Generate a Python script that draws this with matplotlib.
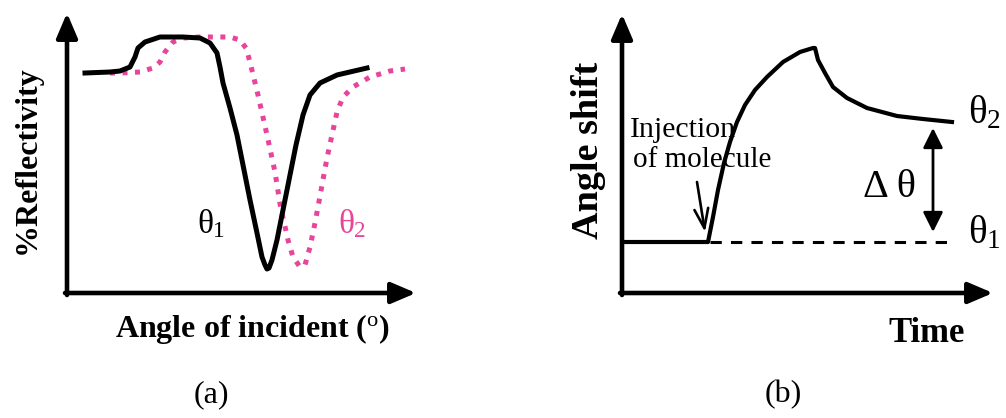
import matplotlib.pyplot as plt

plt.rcParams['font.family'] = ['Liberation Serif', 'DejaVu Serif']
plt.rcParams['mathtext.fontset'] = 'custom'
plt.rcParams['mathtext.rm'] = 'Liberation Serif'
plt.rcParams['mathtext.it'] = 'Liberation Serif'
plt.rcParams['mathtext.bf'] = 'Liberation Serif:bold'

PINK = '#e8449a'

# (a) reflectivity curves, before (theta1) and after (theta2) binding
theta1_angle = [18, 43, 53, 63, 68, 71, 78, 93, 116, 133, 143, 150, 153, 156, 163,
                170, 176, 183, 190, 195, 198, 200, 202, 205, 210, 218, 223, 229, 236,
                243, 253, 270, 300]
theta1_refl = [220, 221, 222, 226, 236, 245, 251, 256, 256, 255, 250, 240, 226, 210, 185,
               158, 128, 93, 60, 36, 28, 24, 25, 33, 53, 93, 118, 148, 178,
               198, 210, 218, 225]

theta2_angle = [43, 53, 73, 86, 93, 98, 106, 116, 133, 163, 173, 179, 183, 191, 200,
                208, 214, 217, 221, 226, 233, 238, 243, 248, 251, 260, 270, 276, 286,
                303, 323, 338]
theta2_refl = [220, 220, 221, 225, 231, 241, 251, 255, 256, 256, 253, 245, 231, 198, 158,
               121, 83, 71, 53, 36, 26, 28, 46, 70, 86, 135, 181, 196, 206,
               216, 222, 224]

# (b) sensorgram: angle shift vs time
time_pts = [0, 86, 91, 96, 102, 108, 115, 123, 133, 145, 161, 178, 191, 193,
            196, 203, 211, 225, 245, 275, 301, 330]
shift_pts = [51, 51, 76, 103, 130, 151, 171, 188, 203, 216, 231, 241, 245, 245,
             233, 220, 206, 195, 185, 177, 174, 171]
baseline_time = [88, 333]
baseline_shift = [51, 51]
delta_time = 311
theta1_level = 61
theta2_level = 165

fig = plt.figure(figsize=(10.06, 4.18), dpi=100)

ax_a = fig.add_axes([67 / 1006, 125 / 418, 350 / 1006, 282 / 418])
ax_a.set_xlim(0, 350)
ax_a.set_ylim(0, 282)
ax_a.axis('off')

ax_b = fig.add_axes([622 / 1006, 125 / 418, 372 / 1006, 282 / 418])
ax_b.set_xlim(0, 372)
ax_b.set_ylim(0, 282)
ax_b.axis('off')


def draw_axes(ax, xend, yend):
    style = '-|>,head_length=0.75,head_width=0.32'
    ax.annotate('', xy=(xend, 0), xytext=(-2, 0),
                arrowprops=dict(arrowstyle=style, lw=3.3, color='black',
                                mutation_scale=20, shrinkA=0, shrinkB=0))
    ax.annotate('', xy=(0, yend), xytext=(0, -2),
                arrowprops=dict(arrowstyle=style, lw=3.3, color='black',
                                mutation_scale=20, shrinkA=0, shrinkB=0))


# panel (a)
draw_axes(ax_a, 349, 280)
ax_a.plot(theta2_angle, theta2_refl, color=PINK, lw=3.6, linestyle=(0, (1, 1.5)),
          dash_capstyle='butt', clip_on=False)
ax_a.plot(theta1_angle, theta1_refl, color='black', lw=3.6, clip_on=False,
          solid_joinstyle='round')

ax_a.text(130, 60, r'$\theta_1$', fontsize=24, color='black', va='baseline')
ax_a.text(271, 60, r'$\theta_2$', fontsize=24, color=PINK, va='baseline')

ax_a.text(-40, 133, '%Reflectivity', fontsize=23, fontweight='bold',
          rotation=90, ha='center', va='center')
ax_a.text(186, -44, r'Angle of incident ($^{\mathrm{o}}$)', fontsize=23,
          fontweight='bold', ha='center', va='baseline')
ax_a.text(144, -102, '(a)', fontsize=23, ha='center', va='center')

# panel (b)
draw_axes(ax_b, 371, 279)
ax_b.plot(baseline_time, baseline_shift, color='black', lw=2.2,
          linestyle=(0, (3.7, 3.0)))
ax_b.plot(time_pts, shift_pts, color='black', lw=3.0, solid_joinstyle='round')

ax_b.annotate('', xy=(delta_time, theta1_level), xytext=(delta_time, theta2_level),
              arrowprops=dict(arrowstyle='<|-|>,head_length=0.6,head_width=0.3',
                              lw=2.0, color='black', mutation_scale=20,
                              shrinkA=0, shrinkB=0))
ax_b.annotate('', xy=(83, 61), xytext=(75, 111),
              arrowprops=dict(arrowstyle='->,head_length=0.7,head_width=0.25',
                              lw=1.9, color='black', mutation_scale=20,
                              shrinkA=0, shrinkB=0))

ax_b.text(8, 156, 'Injection', fontsize=21.5, va='baseline')
ax_b.text(11, 126, 'of molecule', fontsize=21, va='baseline')
ax_b.text(267, 96, 'Δ θ', fontsize=29, ha='center', va='baseline')
ax_b.text(346, 170, r'$\theta_2$', fontsize=28, va='baseline')
ax_b.text(346, 50, r'$\theta_1$', fontsize=28, va='baseline')

ax_b.text(-34, 143, 'Angle shift', fontsize=27.5, fontweight='bold',
          rotation=90, ha='center', va='center')
ax_b.text(305, -49, 'Time', fontsize=25, fontweight='bold', ha='center', va='baseline')
ax_b.text(161, -102, '(b)', fontsize=23, ha='center', va='center')

plt.savefig('out.png', dpi=100)
